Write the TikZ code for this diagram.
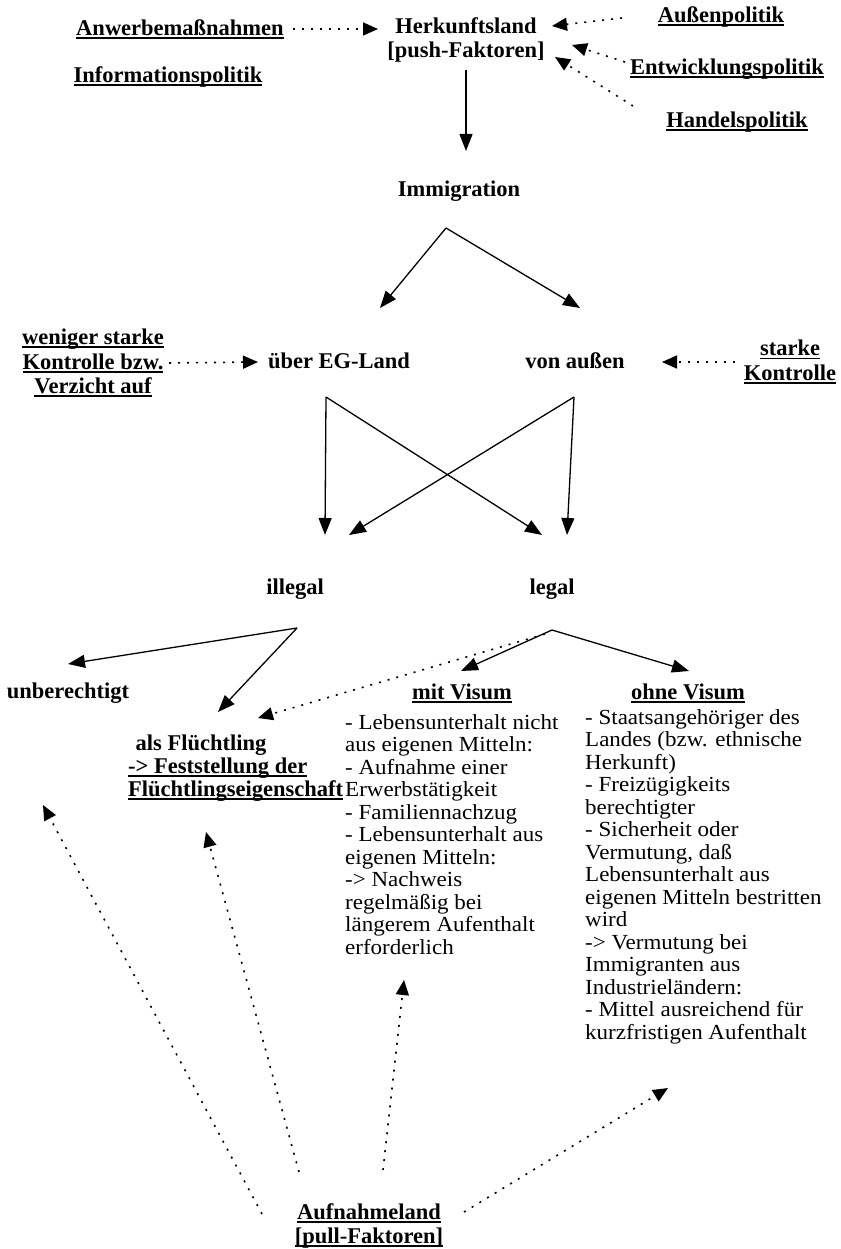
\documentclass[tikz,border=0pt]{standalone}
\usepackage{fontspec}
\setmainfont{Liberation Serif}
\newfontfamily\bodyfont[FakeStretch=1.07]{Liberation Serif}
\usetikzlibrary{arrows.meta}
\newcommand\ulx[1]{\setbox0\hbox{#1}\rlap{\rule[-3.5pt]{\wd0}{1.8pt}}\box0}
\tikzset{
  lbl/.style={font=\fontsize{22.5}{24.5}\selectfont\bfseries, inner sep=0pt, align=center},
  body/.style={font=\bodyfont\fontsize{21.5}{22.5}\selectfont, inner sep=0pt, align=left, anchor=north west},
  arr/.style={-{Triangle[length=17pt,width=13pt]}, line width=1.3pt},
  dotarr/.style={-{Triangle[length=15pt,width=13pt]}, line width=1.6pt, dash pattern=on 2pt off 7pt},
}
\begin{document}
\begin{tikzpicture}[x=1pt,y=-1pt]
\useasboundingbox (0,0) rectangle (840,1249);
% top
\node[lbl] (anw) at (180,29) {\ulx{Anwerbemaßnahmen}};
\node[lbl] (info) at (168,77) {\ulx{Informationspolitik}};
\node[lbl] (herk) at (466,40) {Herkunftsland\\{}[push-Faktoren]};
\node[lbl] (aussen) at (721,17) {\ulx{Außenpolitik}};
\node[lbl] (entw) at (727,69) {\ulx{Entwicklungspolitik}};
\node[lbl] (handel) at (737,122) {\ulx{Handelspolitik}};
\node[lbl] (imm) at (459,191) {Immigration};
% level 2
\node[lbl] (wen) at (93,363) {\ulx{weniger starke}\\\ulx{Kontrolle bzw.}\\\ulx{Verzicht auf}};
\node[lbl] (ueber) at (339,361) {über EG-Land};
\node[lbl] (von) at (575,361) {von außen};
\node[lbl] (stark) at (790,362) {\ulx{starke}\\\ulx{Kontrolle}};
% level 3
\node[lbl] (ill) at (295,589) {illegal};
\node[lbl] (leg) at (552,589) {legal};
% level 4
\node[lbl] (unb) at (68,693) {unberechtigt};
\node[lbl] (fl) at (201,745) {als Flüchtling};
\node[lbl, anchor=west] (fest) at (128,768) {\ulx{-> Feststellung der}};
\node[lbl, anchor=west] (fleig) at (128,791) {\ulx{Flüchtlingseigenschaft}};
\node[lbl] (mit) at (462,693) {\ulx{mit Visum}};
\node[lbl] (ohne) at (688,693) {\ulx{ohne Visum}};
\node[body] (mitl) at (345,714) {- Lebensunterhalt nicht\\aus eigenen Mitteln:\\- Aufnahme einer\\Erwerbstätigkeit\\- Familiennachzug\\- Lebensunterhalt aus\\eigenen Mitteln:\\-> Nachweis\\regelmäßig bei\\längerem Aufenthalt\\erforderlich};
\node[body] (ohnel) at (585,709) {- Staatsangehöriger des\\Landes (bzw. ethnische\\Herkunft)\\- Freizügigkeits\\berechtigter\\- Sicherheit oder\\Vermutung, daß\\Lebensunterhalt aus\\eigenen Mitteln bestritten\\wird\\-> Vermutung bei\\Immigranten aus\\Industrieländern:\\- Mittel ausreichend für\\kurzfristigen Aufenthalt};
\node[lbl] (aufn) at (369,1226) {\ulx{Aufnahmeland}\\\ulx{[pull-Faktoren]}};
% coordinates
\coordinate (immA) at (446,228);
\coordinate (cL) at (326,397);
\coordinate (cR) at (574,397);
\coordinate (illA) at (297,628);
\coordinate (legA) at (552,630);
\coordinate (aufR) at (464,1212);
% solid arrows
\draw[arr] (herk.south |- 0,70) -- (466,151);
\draw[arr] (immA) -- (380,308);
\draw[arr] (immA) -- (580,308);
\draw[arr] (cL) -- (325,535);
\draw[arr] (cL) -- (542,535);
\draw[arr] (cR) -- (349,535);
\draw[arr] (cR) -- (567,535);
\draw[arr] (illA) -- (68,664);
\draw[arr] (illA) -- (218,712);
\draw[arr] (legA) -- (461,671);
\draw[arr] (legA) -- (689,671);
% dotted arrows
\draw[dotarr] (anw.east) ++(9,0) -- (378,29);
\draw[dotarr] (622,18) -- (552,26);
\draw[dotarr] (625,62) -- (572,45);
\draw[dotarr] (633,106) -- (555,57);
\draw[dotarr] (wen.east) ++(5,0) -- (258,362);
\draw[dotarr] (735,362) -- (662,362);
\draw[dotarr] (545,634) -- (258,718);
\draw[dotarr] (262,1214) -- (43,805);
\draw[dotarr] (299,1172) -- (206,832);
\draw[dotarr] (383,1170) -- (404,980);
\draw[dotarr] (aufR) -- (668,1088);
\end{tikzpicture}
\end{document}
